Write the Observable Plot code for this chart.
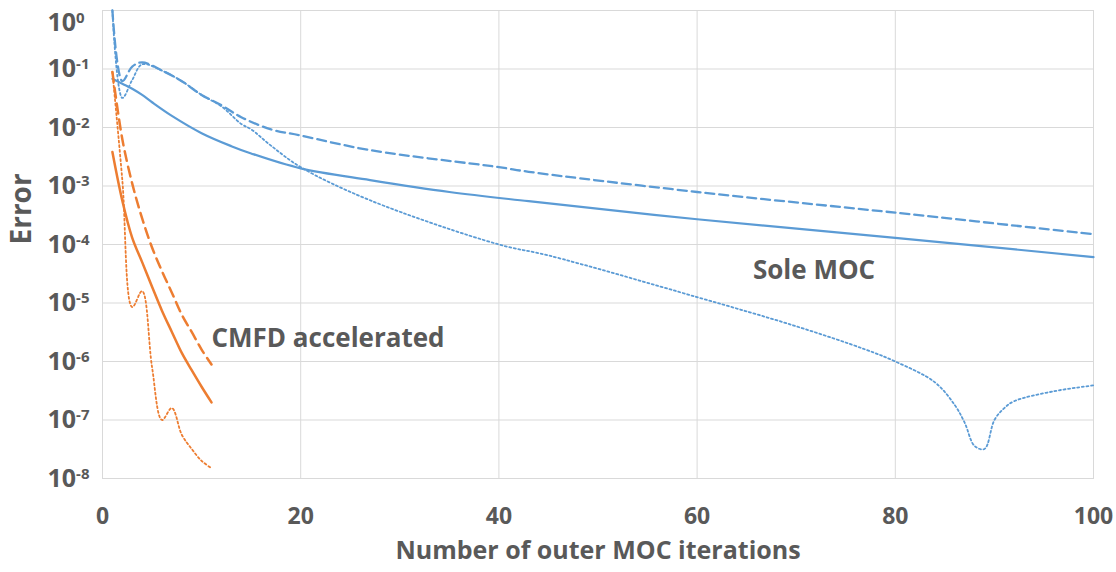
<!DOCTYPE html>
<html>
<head>
<meta charset="utf-8">
<script src="https://cdn.jsdelivr.net/npm/d3@7"></script>
<script src="https://cdn.jsdelivr.net/npm/@observablehq/plot@0.6"></script>
<style>
  html, body { margin: 0; padding: 0; background: #fff; }
  #chart { width: 1116px; height: 572px; }
</style>
</head>
<body>
<div id="chart"></div>
<script>
// ---- data ----
const xTicks = [0, 20, 40, 60, 80, 100];
const yTicks = [1, 1e-1, 1e-2, 1e-3, 1e-4, 1e-5, 1e-6, 1e-7, 1e-8];
const xTitle = "Number of outer MOC iterations";
const yTitle = "Error";

// Sole MOC (blue)
const blueSolidX = [1, 2, 3, 4, 5, 7, 10, 13, 15, 20, 27, 35, 43, 60, 80, 100];
const blueSolidY = [0.068, 0.056, 0.046, 0.036, 0.027, 0.0158, 0.0080, 0.0048, 0.0036, 0.0020, 0.00126, 0.00079, 0.00055, 0.00027, 0.00013, 0.000061];

const blueDashedX = [1, 2, 3, 4, 6, 8, 10, 12, 14, 17, 20, 27, 40, 43, 60, 80, 100];
const blueDashedY = [1.0, 0.062, 0.11, 0.13, 0.094, 0.062, 0.036, 0.024, 0.015, 0.0093, 0.0073, 0.0041, 0.0021, 0.00175, 0.00079, 0.00035, 0.00015];

const blueDottedX = [1, 2, 3, 4, 6, 8, 10, 12, 14, 15, 17, 20, 27, 40, 45, 60, 70, 77, 80, 84, 86, 87, 88, 89, 90, 91, 92, 96, 100];
const blueDottedY = [1.0, 0.032, 0.065, 0.12, 0.094, 0.062, 0.036, 0.023, 0.0115, 0.0093, 0.0049, 0.0021, 0.00057, 0.000100, 0.000065, 0.0000126, 0.000004, 0.0000016, 0.0000010, 4.4e-7, 1.8e-7, 9e-8, 3.6e-8, 3.2e-8, 1.0e-7, 1.6e-7, 2.1e-7, 3.1e-7, 3.9e-7];

// CMFD accelerated (orange)
const orangeX = [1, 2, 3, 4, 5, 6, 7, 8, 9, 10, 11];
const orangeSolidY = [3.8e-3, 5.6e-4, 1.3e-4, 5.0e-5, 1.9e-5, 7.4e-6, 3.2e-6, 1.4e-6, 7.1e-7, 3.7e-7, 2.0e-7];
const orangeDashedY = [0.089, 6.3e-3, 1.1e-3, 2.8e-4, 8.9e-5, 3.5e-5, 1.5e-5, 6.3e-6, 3.2e-6, 1.6e-6, 8.9e-7];
const orangeDottedY = [0.089, 1.26e-3, 8.5e-6, 1.6e-5, 8.0e-7, 1.0e-7, 1.6e-7, 5.6e-8, 3.2e-8, 2.0e-8, 1.5e-8];

// annotation labels
const soleLabel = {text: "Sole MOC", x: 71.8, y: 3.6e-5};
const cmfdLabel = {text: "CMFD accelerated", x: 11.0, y: 2.5e-6};

// ---- build ----
const rows = (xs, ys) => xs.map((x, i) => ({x, y: ys[i]}));
const BLUE = "#5B9BD5", ORANGE = "#ED7D31", GRID = "#d9d9d9", TXT = "#595959";

const chart = Plot.plot({
  width: 1116,
  height: 572,
  marginLeft: 102,
  marginRight: 23,
  marginTop: 10,
  marginBottom: 94,
  style: {fontFamily: "'Open Sans', sans-serif", fontWeight: "bold", color: TXT, background: "#fff"},
  x: {domain: [0, 100]},
  y: {type: "log", domain: [1e-8, 1]},
  marks: [
    Plot.gridX(xTicks, {stroke: GRID, strokeOpacity: 1, strokeWidth: 1}),
    Plot.gridY(yTicks, {stroke: GRID, strokeOpacity: 1, strokeWidth: 1}),
    Plot.frame({stroke: GRID, strokeWidth: 1}),
    Plot.axisX({ticks: xTicks, tickSize: 0, tickPadding: 29, fontSize: 23, fill: TXT, label: null}),
    Plot.axisY({ticks: yTicks, tickSize: 0, tickPadding: 55, textAnchor: "start", fontSize: 25, fill: TXT, label: null,
      tickFormat: d => "10^" + Math.round(Math.log10(d))}),
    Plot.line(rows(blueDottedX, blueDottedY), {x: "x", y: "y", stroke: BLUE, strokeWidth: 1.8, strokeDasharray: "2,2.6", curve: "catmull-rom"}),
    Plot.line(rows(blueDashedX, blueDashedY), {x: "x", y: "y", stroke: BLUE, strokeWidth: 2.3, strokeDasharray: "9,5", curve: "catmull-rom"}),
    Plot.line(rows(blueSolidX, blueSolidY), {x: "x", y: "y", stroke: BLUE, strokeWidth: 2.2, curve: "catmull-rom"}),
    Plot.line(rows(orangeX, orangeDottedY), {x: "x", y: "y", stroke: ORANGE, strokeWidth: 1.8, strokeDasharray: "2,2.6", curve: "catmull-rom"}),
    Plot.line(rows(orangeX, orangeDashedY), {x: "x", y: "y", stroke: ORANGE, strokeWidth: 2.5, strokeDasharray: "10,6", curve: "catmull-rom"}),
    Plot.line(rows(orangeX, orangeSolidY), {x: "x", y: "y", stroke: ORANGE, strokeWidth: 2.5, curve: "catmull-rom"}),
    Plot.text([soleLabel], {x: "x", y: "y", text: "text", textAnchor: "middle", fontSize: 26, fontWeight: "bold", fill: TXT}),
    Plot.text([cmfdLabel], {x: "x", y: "y", text: "text", textAnchor: "start", fontSize: 26, fontWeight: "bold", fill: TXT}),
    Plot.text([xTitle], {frameAnchor: "bottom", dy: 80, fontSize: 25, fontWeight: "bold", fill: TXT}),
    Plot.text([yTitle], {frameAnchor: "left", dx: -80, rotate: -90, fontSize: 28, fontWeight: "bold", fill: TXT})
  ]
});
document.getElementById("chart").appendChild(chart);

// superscript exponents on the y tick labels
d3.select(chart).selectAll('g[aria-label="y-axis tick label"] text').each(function () {
  const t = d3.select(this);
  const s = t.text();
  const idx = s.indexOf("^");
  if (idx < 0) return;
  const base = s.slice(0, idx), exp = s.slice(idx + 1);
  t.text(null);
  t.append("tspan").text(base);
  t.append("tspan").attr("dy", "-8").attr("font-size", "15px").text(exp);
  if (exp === "0") t.attr("transform", (t.attr("transform") || "") + " translate(0,12)");
});
</script>
</body>
</html>
